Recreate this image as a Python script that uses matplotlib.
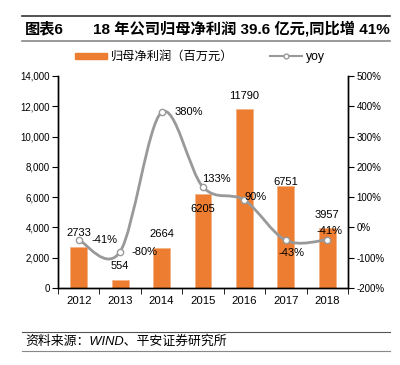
import matplotlib.pyplot as plt
from matplotlib.path import Path
from matplotlib.patches import PathPatch
from matplotlib.lines import Line2D
import numpy as np

plt.rcParams['font.family'] = ['Liberation Sans', 'Noto Sans CJK SC', 'DejaVu Sans']

years = ['2012', '2013', '2014', '2015', '2016', '2017', '2018']
profit = [2733, 554, 2664, 6205, 11790, 6751, 3957]
yoy = [-41, -80, 380, 133, 90, -43, -41]
yoy_labels = ['-41%', '-80%', '380%', '133%', '90%', '-43%', '-41%']

bar_color = '#ED7D31'
line_color = '#999999'

fig = plt.figure(figsize=(4, 3.65), dpi=100)
ax = fig.add_axes([0.145, 0.211, 0.725, 0.581])
ax2 = ax.twinx()

x = np.arange(len(years))
ax.bar(x, profit, width=0.41, color=bar_color, edgecolor='#F4B183', linewidth=0.5, zorder=2)
ax.set_xlim(-0.5, len(years) - 0.5)
ax.set_ylim(0, 14000)
ax.set_yticks(range(0, 14001, 2000))
ax.set_yticklabels([f'{v:,}' for v in range(0, 14001, 2000)], fontsize=7)
ax.set_xticks(x)
ax.set_xticklabels(years, fontsize=8.2)
ax.set_xticks(np.arange(-0.5, len(years), 1), minor=True)
ax.tick_params(axis='x', which='major', length=0, pad=6)
ax.tick_params(axis='x', which='minor', length=4, direction='out')
ax.tick_params(axis='y', length=4, direction='out', pad=2)

ax2.set_ylim(-200, 500)
ax2.set_yticks(range(-200, 501, 100))
ax2.set_yticklabels([f'{v}%' for v in range(-200, 501, 100)], fontsize=7)
ax2.tick_params(axis='y', length=4, direction='out', pad=2)

for a in (ax, ax2):
    a.spines['top'].set_visible(False)
    for s in ('left', 'right', 'bottom'):
        a.spines[s].set_linewidth(1.0)

# smoothed yoy line (cardinal spline as cubic bezier segments in data coords)
pts = np.column_stack([x, yoy]).astype(float)
verts = [tuple(pts[0])]
codes = [Path.MOVETO]
n = len(pts)
for i in range(n - 1):
    p0 = pts[i - 1] if i > 0 else pts[i]
    p1 = pts[i]
    p2 = pts[i + 1]
    p3 = pts[i + 2] if i + 2 < n else pts[i + 1]
    c1 = p1 + (p2 - p0) / 6.0
    c2 = p2 - (p3 - p1) / 6.0
    verts += [tuple(c1), tuple(c2), tuple(p2)]
    codes += [Path.CURVE4] * 3
ax2.add_patch(PathPatch(Path(verts, codes), facecolor='none', edgecolor=line_color, lw=2, zorder=3))
ax2.plot(x, yoy, linestyle='none', marker='o', ms=4.5, mfc='white', mec=line_color, mew=1, zorder=4)

# bar labels (offset in points, Excel-style placement)
bar_dy = [10, 10, 10, -11, 10, 3, 9.5]
for xi, v, dy in zip(x, profit, bar_dy):
    ax.annotate(str(v), (xi, v), xytext=(0, dy), textcoords='offset points',
                ha='center', va='center', fontsize=8)

# yoy labels
offsets = [(9.5, 0, 'left'), (8.5, 0, 'left'), (9.5, 0, 'left'), (-1, 6, 'left'),
           (0, 2, 'left'), (4, -9, 'center'), (1.5, 6.5, 'center')]
for xi, v, lab, (dx, dy, ha) in zip(x, yoy, yoy_labels, offsets):
    ax2.annotate(lab, (xi, v), xytext=(dx, dy), textcoords='offset points',
                 ha=ha, va='center', fontsize=8, zorder=5)

# legend
handles = [plt.Rectangle((0, 0), 1, 1, color=bar_color),
           Line2D([], [], color=line_color, lw=1.5, marker='o', ms=3.5, mfc='white', mec=line_color)]
fig.legend(handles, ['归母净利润（百万元）', 'yoy'], loc='center', bbox_to_anchor=(0.5, 1 - 57 / 365),
           ncol=2, frameon=False, fontsize=8.8, handlelength=2.6, handleheight=0.35,
           handletextpad=0.3, columnspacing=3.0)

# header and footer
fig.add_artist(Line2D([22 / 400, 390 / 400], [1 - 16 / 365, 1 - 16 / 365], color='#333333', lw=1.2))
fig.add_artist(Line2D([22 / 400, 390 / 400], [1 - 41 / 365, 1 - 41 / 365], color='#888888', lw=1.2))
fig.text(25 / 400, 1 - 29 / 365, '图表6', fontsize=11, fontweight='bold', va='center')
fig.text(93 / 400, 1 - 29 / 365, '18 年公司归母净利润 39.6 亿元,同比增 41%', fontsize=11,
         fontweight='bold', va='center')
fig.add_artist(Line2D([22 / 400, 390 / 400], [1 - 332 / 365, 1 - 332 / 365], color='#555555', lw=0.8))
fig.add_artist(Line2D([22 / 400, 390 / 400], [1 - 351 / 365, 1 - 351 / 365], color='#888888', lw=0.8))
fig.text(25 / 400, 1 - 342 / 365, '资料来源：WIND、平安证券研究所', fontsize=9.3, va='center',
         style='italic')

fig.savefig('out.png', dpi=100)
